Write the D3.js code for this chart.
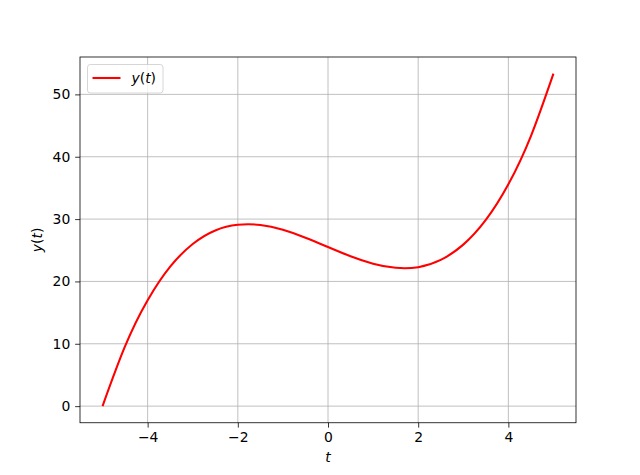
<!DOCTYPE html>
<html><head><meta charset="utf-8">
<script src="https://cdn.jsdelivr.net/npm/d3@7"></script>
<style>body{margin:0;background:#fff}svg{display:block}text{font-family:"DejaVu Sans",sans-serif}</style>
</head><body>
<script>
const tValues = [-5,-4.5,-4,-3.5,-3,-2.5,-2,-1.5,-1,-0.5,0,0.5,1,1.5,2,2.5,3,3.5,4,4.5,5];
const yValues = [0.0,9.61,16.98,22.37,26.01,28.18,29.08,29.05,28.28,27.02,25.52,24.04,22.85,22.18,22.28,23.45,25.9,29.86,35.58,43.31,53.33];
const xTicks = [-4,-2,0,2,4];
const yTicks = [0,10,20,30,40,50];
const seriesLabel = "y(t)";

const W=640,H=475;
const L=80,R=576,T=57,B=422.75;
const svg=d3.select("body").append("svg").attr("width",W).attr("height",H);
const x=d3.scaleLinear().domain([-5.5,5.5]).range([L,R]);
const yMax=d3.max(yValues), yMin=d3.min(yValues), pad=(yMax-yMin)*0.05;
const y=d3.scaleLinear().domain([yMin-pad,yMax+pad]).range([B,T]);
const fmt=d=>d<0?"\u2212"+Math.abs(d):String(d);

// grid
svg.append("g").selectAll("line").data(xTicks).join("line")
 .attr("x1",d=>x(d)).attr("x2",d=>x(d)).attr("y1",T).attr("y2",B)
 .attr("stroke","#b0b0b0").attr("stroke-width",0.8);
svg.append("g").selectAll("line").data(yTicks).join("line")
 .attr("y1",d=>y(d)).attr("y2",d=>y(d)).attr("x1",L).attr("x2",R)
 .attr("stroke","#b0b0b0").attr("stroke-width",0.8);

// line
const pts=tValues.map((t,i)=>[t,yValues[i]]);
svg.append("path").datum(pts)
 .attr("d",d3.line().x(d=>x(d[0])).y(d=>y(d[1])).curve(d3.curveNatural))
 .attr("fill","none").attr("stroke","red").attr("stroke-width",2.08);

// axes
const xAxis=d3.axisBottom(x).tickValues(xTicks).tickFormat(fmt).tickSize(4.86).tickPadding(4.86);
const yAxis=d3.axisLeft(y).tickValues(yTicks).tickFormat(fmt).tickSize(4.86).tickPadding(4.86);
const gx=svg.append("g").attr("transform",`translate(0,${B})`).call(xAxis);
const gy=svg.append("g").attr("transform",`translate(${L},0)`).call(yAxis);
[gx,gy].forEach(g=>{
 g.select(".domain").remove();
 g.selectAll(".tick line").attr("stroke","#000").attr("stroke-width",0.8);
 g.selectAll(".tick text").attr("fill","#000").attr("font-size","13.9px").attr("font-family","DejaVu Sans");
});
// spines
svg.append("rect").attr("x",L).attr("y",T).attr("width",R-L).attr("height",B-T)
 .attr("fill","none").attr("stroke","#000").attr("stroke-width",0.8);

// axis labels
function mathLabel(g, parts){
 const t=g.append("text").attr("font-size","13.9px").attr("fill","#000");
 parts.forEach(p=>t.append("tspan").text(p[0]).attr("font-style",p[1]?"italic":"normal"));
 return t;
}
mathLabel(svg.append("g").attr("transform",`translate(${(L+R)/2},462)`),[["t",1]]).attr("text-anchor","middle");
mathLabel(svg.append("g").attr("transform",`translate(42,${(T+B)/2}) rotate(-90)`),[["y",1],["(",0],["t",1],[")",0]]).attr("text-anchor","middle");

// legend
const lg=svg.append("g");
lg.append("rect").attr("x",87.5).attr("y",64.5).attr("width",75.5).attr("height",28.5).attr("rx",2.8)
 .attr("fill","#fff").attr("fill-opacity",0.8).attr("stroke","#cccccc").attr("stroke-width",0.8);
lg.append("line").attr("x1",92.5).attr("x2",120.5).attr("y1",78).attr("y2",78).attr("stroke","red").attr("stroke-width",2.08);
mathLabel(lg.append("g").attr("transform","translate(131.5,83)"),[["y",1],["(",0],["t",1],[")",0]]);
</script>
</body></html>
